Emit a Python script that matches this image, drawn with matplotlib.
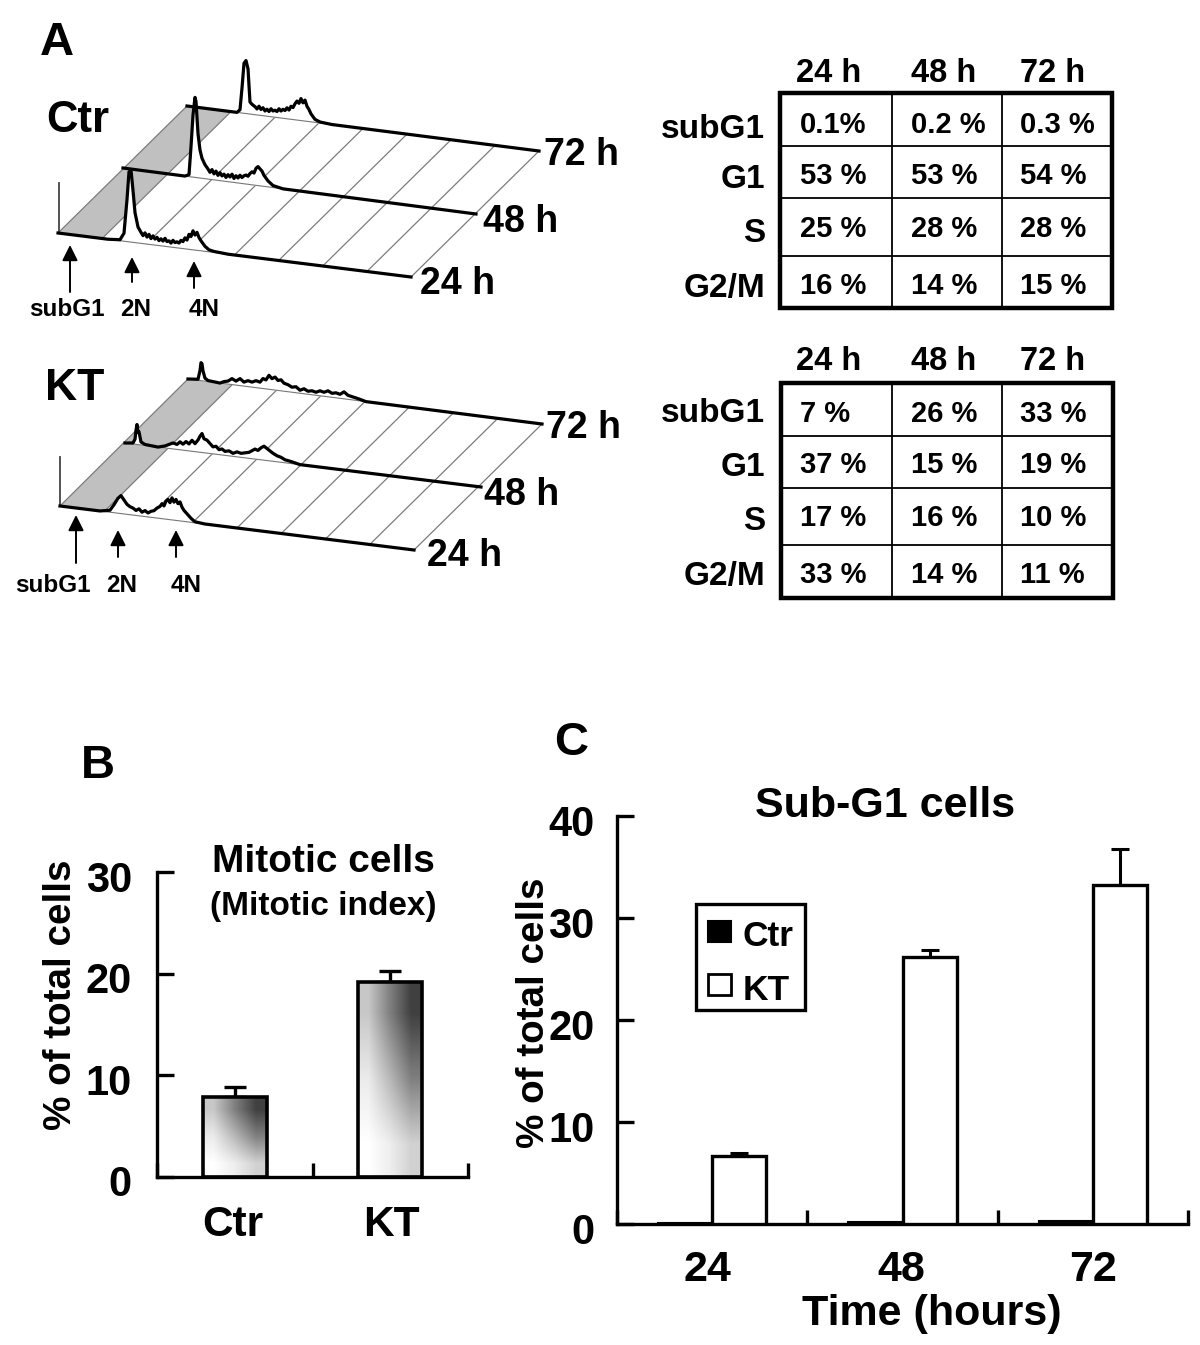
import numpy as np
import matplotlib
matplotlib.use('Agg')
import matplotlib.pyplot as plt
from matplotlib.patches import Rectangle
from matplotlib.transforms import ScaledTranslation

plt.rcParams['font.family'] = ['Liberation Sans', 'DejaVu Sans']
plt.rcParams['font.weight'] = 'bold'

W, H = 1200, 1345

# Valores de las tablas
times = ['24 h', '48 h', '72 h']
phases = ['subG1', 'G1', 'S', 'G2/M']
ctr_table = [['0.1%', '0.2 %', '0.3 %'],
             ['53 %', '53 %', '54 %'],
             ['25 %', '28 %', '28 %'],
             ['16 %', '14 %', '15 %']]
kt_table = [['7 %', '26 %', '33 %'],
            ['37 %', '15 %', '19 %'],
            ['17 %', '16 %', '10 %'],
            ['33 %', '14 %', '11 %']]

# Histogramas: canal y altura de cada traza
ctr24_ch = [0, 50, 62, 66, 69, 71, 73, 75, 77, 80, 83, 85, 87, 89, 91, 93, 95, 97, 99, 101, 103, 105, 107, 109, 111, 113, 115, 117, 119, 121, 123, 125, 127, 129, 131, 133, 135, 137, 139, 141, 143, 147, 151, 156, 170, 353]
ctr24_h = [0, 0, 1, 8, 42, 70, 72, 52, 30, 16, 11, 8, 11, 7, 10, 6, 9, 6, 8, 5, 7, 5, 8, 5, 6, 4, 7, 5, 6, 5, 8, 7, 11, 9, 15, 13, 19, 15, 18, 13, 10, 5, 2, 1, 0, 0]
ctr48_ch = [0, 62, 66, 68, 70, 72, 73, 75, 77, 79, 82, 85, 87, 89, 91, 93, 95, 97, 99, 101, 103, 105, 107, 109, 111, 113, 115, 117, 119, 121, 123, 125, 127, 129, 131, 133, 135, 137, 139, 141, 145, 150, 160, 353]
ctr48_h = [0, 0, 2, 30, 62, 80, 76, 44, 28, 20, 14, 10, 7, 10, 6, 9, 5, 8, 5, 7, 4, 7, 5, 8, 4, 7, 5, 8, 6, 8, 9, 8, 11, 13, 12, 17, 19, 17, 15, 11, 6, 2, 0, 0]
ctr72_ch = [0, 50, 53, 55, 57, 59, 61, 63, 65, 68, 70, 72, 74, 76, 78, 80, 82, 84, 86, 88, 90, 92, 94, 96, 98, 100, 102, 104, 106, 108, 110, 112, 114, 116, 118, 120, 122, 124, 128, 133, 145, 352]
ctr72_h = [0, 0, 3, 25, 50, 53, 45, 12, 10, 8, 6, 9, 6, 8, 5, 7, 5, 8, 6, 7, 6, 9, 7, 9, 8, 11, 9, 13, 12, 16, 19, 17, 22, 18, 21, 15, 12, 8, 3, 1, 0, 0]

kt24_ch = [0, 40, 50, 54, 58, 61, 64, 67, 70, 73, 76, 79, 82, 85, 88, 91, 94, 97, 100, 102, 104, 106, 108, 110, 112, 114, 116, 118, 120, 122, 124, 127, 131, 135, 145, 354]
kt24_h = [0, 0, 2, 8, 15, 18, 14, 10, 8, 7, 5, 7, 4, 6, 4, 6, 7, 10, 12, 15, 13, 18, 20, 17, 22, 18, 21, 17, 19, 14, 11, 8, 4, 1, 0, 0]
kt48_ch = [0, 8, 10, 11, 12, 13, 14, 16, 20, 33, 40, 44, 48, 52, 55, 58, 61, 64, 67, 70, 73, 75, 77, 79, 82, 85, 88, 91, 94, 97, 100, 104, 108, 112, 116, 120, 124, 127, 130, 133, 136, 139, 142, 145, 148, 152, 156, 160, 166, 175, 356]
kt48_h = [0, 1, 5, 14, 20, 12, 13, 3, 1, 0, 2, 4, 6, 5, 8, 6, 9, 7, 11, 8, 12, 16, 19, 14, 13, 10, 7, 8, 5, 6, 4, 5, 3, 5, 4, 5, 6, 8, 10, 9, 12, 14, 12, 10, 8, 6, 5, 3, 2, 0, 0]
kt72_ch = [0, 10, 12, 13, 14, 15, 17, 20, 32, 36, 40, 44, 48, 52, 56, 60, 64, 68, 72, 75, 78, 81, 84, 87, 90, 93, 96, 100, 104, 108, 112, 116, 120, 124, 128, 132, 136, 140, 144, 148, 152, 156, 160, 165, 170, 178, 354]
kt72_h = [0, 1, 10, 18, 17, 10, 3, 1, 0, 2, 3, 6, 4, 7, 4, 6, 5, 7, 6, 10, 9, 14, 11, 13, 10, 11, 8, 7, 5, 6, 3, 5, 3, 4, 3, 5, 4, 6, 4, 5, 4, 7, 4, 3, 2, 0, 0]

# Panel B
mitotic_names = ['Ctr', 'KT']
mitotic_vals = [7.9, 19.2]
mitotic_err = [0.95, 1.05]

# Panel C
hours = ['24', '48', '72']
subg1_ctr = [0.1, 0.2, 0.3]
subg1_kt = [6.7, 26.2, 33.2]
subg1_kt_err = [0.3, 0.7, 3.6]

fig = plt.figure(figsize=(W / 100, H / 100), dpi=100)

# Capa en pixeles para el panel A y los textos sueltos
bg = fig.add_axes([0, 0, 1, 1], zorder=5)
bg.set_xlim(0, W)
bg.set_ylim(H, 0)
bg.axis('off')
bg.patch.set_alpha(0)


def px_axes(left, top, right, bottom):
    return fig.add_axes([left / W, 1 - bottom / H, (right - left) / W, (bottom - top) / H])


def label(x, y, s, size, ha='center', rot=0):
    # El centro de la caja de texto queda un poco corrido respecto a la letra
    if rot:
        x = x + 3
    else:
        y = y + 3
    bg.text(x, y, s, fontsize=size, ha=ha, va='center', rotation=rot, color='black')


def trace(start, end, ch, h, z):
    # Traza sobre la linea base inclinada de cada tiempo
    sx, sy = start
    ex, ey = end
    ch = np.array(ch, dtype=float)
    h = np.array(h, dtype=float)
    xs = sx + ch
    base = sy + ch * (ey - sy) / (ex - sx)
    bg.fill_between(xs, base, base - h, color='white', zorder=z, lw=0)
    bg.plot([sx, ex], [sy, ey], color='#777777', lw=0.8, zorder=z + 0.1)
    bg.plot(xs, base - h, color='black', lw=2.3, zorder=z + 0.2, solid_joinstyle='round')


def stack(front, back, axis_x, axis_top, traces):
    # Suelo del grafico: banda gris y lineas inclinadas
    (fx, fy), (fx2, fy2) = front
    (bx, by), (bx2, by2) = back
    n = 8
    fxs = np.linspace(fx, fx2, n + 1)
    fys = np.linspace(fy, fy2, n + 1)
    bxs = np.linspace(bx, bx2, n + 1)
    bys = np.linspace(by, by2, n + 1)
    bg.fill([fxs[0], fxs[1], bxs[1], bxs[0]], [fys[0], fys[1], bys[1], bys[0]],
            color='#c0c0c0', lw=0, zorder=1)
    for i in range(n + 1):
        bg.plot([fxs[i], bxs[i]], [fys[i], bys[i]], color='#7c7c7c', lw=0.9, zorder=1.5)
    bg.plot([axis_x, axis_x], [axis_top, fy], color='#444444', lw=1.3, zorder=2)
    for z, (st, en, ch, h) in zip([5, 4, 3], traces):
        trace(st, en, ch, h, z)


def arrow(x, y0, y1):
    bg.annotate('', xy=(x, y0), xytext=(x, y1), zorder=8,
                arrowprops=dict(arrowstyle='-|>,head_width=0.47,head_length=0.94', color='black', lw=1.4,
                                shrinkA=0, shrinkB=0))


def table(left, right, top, bottom, rows, cols, header_y, cells, text_x, row_y, label_y):
    bg.add_patch(Rectangle((left, top), right - left, bottom - top, fill=False, ec='black', lw=3.2, zorder=6))
    for r in rows:
        bg.plot([left, right], [r, r], color='black', lw=1.3, zorder=6)
    for c in cols:
        bg.plot([c, c], [top, bottom], color='black', lw=1.3, zorder=6)
    for x, t in zip([829, 944, 1053], times):
        label(x, header_y, t, 23.5)
    for i, name in enumerate(phases):
        label(765, label_y[i], name, 24, ha='right')
        for j in range(3):
            label(text_x[j], row_y[i], cells[i][j], 21, ha='left')


# Panel A
label(57, 40, 'A', 34)
label(78, 117, 'Ctr', 31.5)
label(75, 386, 'KT', 32)

stack(((58, 233), (411, 277)), ((187, 106), (539, 151)), 59, 183,
      [((58, 233), (411, 277), ctr24_ch, ctr24_h),
       ((123, 168), (476, 214), ctr48_ch, ctr48_h),
       ((187, 106), (539, 151), ctr72_ch, ctr72_h)])
stack(((60, 506), (414, 550)), ((188, 379), (542, 424)), 60, 457,
      [((60, 506), (414, 550), kt24_ch, kt24_h),
       ((125, 443), (481, 487), kt48_ch, kt48_h),
       ((188, 379), (542, 424), kt72_ch, kt72_h)])

label(582, 152, '72 h', 27)
label(521, 219, '48 h', 27)
label(458, 281, '24 h', 27)
label(583, 425, '72 h', 27)
label(522, 492, '48 h', 27)
label(465, 553, '24 h', 27)

arrow(70, 245, 292)
arrow(132, 257, 282)
arrow(194, 261, 288)
arrow(76, 515, 563)
arrow(118, 530, 557)
arrow(176, 530, 557)
label(67, 307, 'subG1', 17.5)
label(136, 307, '2N', 17.5)
label(204, 307, '4N', 17.5)
label(53, 583, 'subG1', 17.5)
label(122, 583, '2N', 17.5)
label(186, 583, '4N', 17.5)

table(780, 1112, 93, 308, [146, 198, 256], [892, 1002], 71, ctr_table,
      [800, 911, 1020], [122, 173, 226, 283], [126, 177, 231, 286])
table(781, 1113, 383, 598, [436, 488, 545], [892, 1002], 358, kt_table,
      [800, 911, 1020], [411, 462, 515, 572], [411, 465, 519, 574])


def style_axes(ax, pad):
    ax.patch.set_alpha(0)
    for s in ['top', 'right']:
        ax.spines[s].set_visible(False)
    for s in ['left', 'bottom']:
        ax.spines[s].set_linewidth(2.4)
    ax.tick_params(axis='y', direction='in', length=12, width=2.4, labelsize=30, pad=pad)
    ax.tick_params(axis='x', direction='in', length=10, width=2.4, labelbottom=False)
    off = ScaledTranslation(0, -4 / 100, fig.dpi_scale_trans)
    for t in ax.get_yticklabels():
        t.set_transform(t.get_transform() + off)
        t.set_fontweight('bold')


# Panel B
label(98, 763, 'B', 34)
axb = px_axes(157, 872, 468, 1177)
xb = np.array([0.5, 1.5])
wb = 0.41
grad = np.array([[0.78, 0.5, 0.25], [0.92, 0.72, 0.5], [1.0, 0.93, 0.82]])
bars = axb.bar(xb, mitotic_vals, wb, facecolor='none', edgecolor='black', linewidth=2.6, zorder=3)
for b in bars:
    x0, wd, ht = b.get_x(), b.get_width(), b.get_height()
    im = axb.imshow(grad, extent=[x0, x0 + wd, 0, ht], cmap='gray', vmin=0, vmax=1,
                    interpolation='bilinear', aspect='auto', zorder=2)
    im.set_clip_path(Rectangle((x0, 0), wd, ht, transform=axb.transData))
axb.errorbar(xb, mitotic_vals, yerr=[[0, 0], mitotic_err], fmt='none', ecolor='black',
             elinewidth=2.4, capsize=8, capthick=2.4, zorder=1)
axb.set_xlim(0, 2)
axb.set_ylim(0, 30)
axb.set_xticks([0, 1, 2])
axb.set_yticks([0, 10, 20, 30])
style_axes(axb, 18)
label(233, 1222, mitotic_names[0], 30.5)
label(391, 1222, mitotic_names[1], 30.5)
label(323, 859, 'Mitotic cells', 28)
label(323, 903, '(Mitotic index)', 24)
label(58, 995, '% of total cells', 27.8, rot=90)

# Panel C
label(571, 740, 'C', 34)
axc = px_axes(617, 816, 1188, 1224)
xc = np.array([0.5, 1.5, 2.5])
wc = 0.285
axc.bar(xc - wc / 2, subg1_ctr, wc, color='black', edgecolor='black', linewidth=1.5, zorder=2)
axc.bar(xc + wc / 2, subg1_kt, wc, color='white', edgecolor='black', linewidth=2.4, zorder=3)
axc.errorbar(xc + wc / 2, subg1_kt, yerr=[[0, 0, 0], subg1_kt_err], fmt='none', ecolor='black',
             elinewidth=2.2, capsize=6.5, capthick=2.2, zorder=1)
axc.set_xlim(0, 3)
axc.set_ylim(0, 40)
axc.set_xticks([0, 1, 2, 3])
axc.set_yticks([0, 10, 20, 30, 40])
style_axes(axc, 16)
for x, t in zip([707, 901, 1093], hours):
    label(x, 1267, t, 31)
label(932, 1311, 'Time (hours)', 31)
label(885, 803, 'Sub-G1 cells', 31)
label(531, 1013, '% of total cells', 27.8, rot=90)

# Leyenda
bg.add_patch(Rectangle((696, 904), 109, 106, fc='white', ec='black', lw=2.4, zorder=6))
bg.add_patch(Rectangle((708, 921), 23, 21, fc='black', ec='black', lw=1.5, zorder=7))
bg.add_patch(Rectangle((708, 974), 23, 21, fc='white', ec='black', lw=2, zorder=7))
bg.text(743, 937, 'Ctr', fontsize=25.5, va='center', ha='left', zorder=7)
bg.text(743, 990, 'KT', fontsize=25.5, va='center', ha='left', zorder=7)

fig.savefig('out.png', dpi=100, facecolor='white')
